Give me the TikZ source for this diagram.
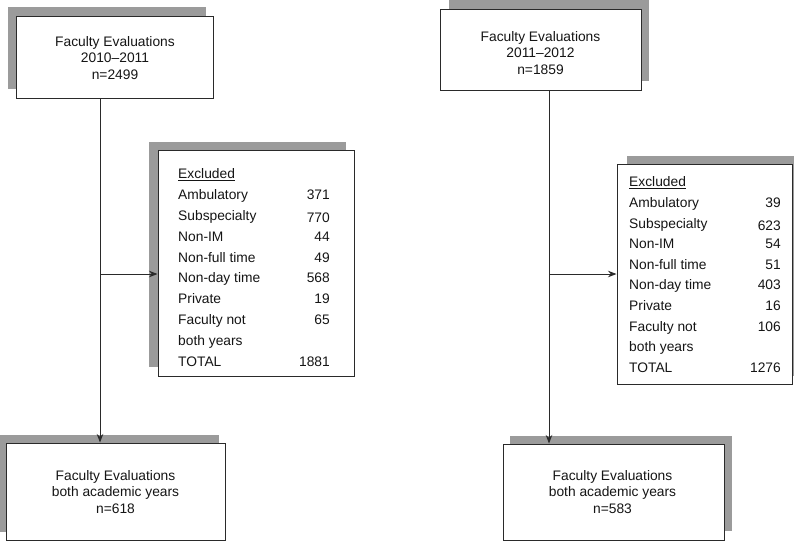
\documentclass[tikz,border=0pt]{standalone}
\usepackage{fontspec}
\setmainfont{Liberation Sans}
\usetikzlibrary{arrows.meta}
\definecolor{shade}{HTML}{9B9B9B}
\definecolor{ink}{HTML}{2A2A2A}
\definecolor{textink}{HTML}{151515}
\begin{document}
\begin{tikzpicture}[x=1pt,y=-1pt,
  box/.style={draw=ink, fill=white, line width=1pt, inner sep=0pt},
  shadowfill/.style={fill=shade},
  txt/.style={text=textink, font=\fontsize{13.8}{16.5}\selectfont, inner sep=0pt},
  conn/.style={draw=ink, line width=0.9pt, -{Stealth[length=8.5pt,width=6.5pt]}}]
\useasboundingbox (0,0) rectangle (794,541);

% shadows
\fill[shadowfill] (8,7) rectangle (206,89);
\fill[shadowfill] (149,142) rectangle (346,367);
\fill[shadowfill] (0,435) rectangle (219,532);
\fill[shadowfill] (449,0) rectangle (649,81);
\fill[shadowfill] (627,156) rectangle (794,376);
\fill[shadowfill] (510,436) rectangle (732,531);

% boxes
\node[box, minimum width=197pt, minimum height=82pt] (tl) at (114.5,57) {};
\node[box, minimum width=196pt, minimum height=226pt] (le) at (256,263) {};
\node[box, minimum width=219pt, minimum height=97pt] (bl) at (115.5,491.5) {};
\node[box, minimum width=201pt, minimum height=81pt] (tr) at (540.5,49.5) {};
\node[box, minimum width=175pt, minimum height=220pt] (re) at (704.5,274) {};
\node[box, minimum width=221pt, minimum height=96pt] (br) at (613.5,492) {};

% box texts
\node[txt, align=center] (tltext) at (115,58) {Faculty Evaluations\\2010--2011\\n=2499};
\node[txt, align=center] (trtext) at (540.5,53) {Faculty Evaluations\\2011--2012\\n=1859};
\node[txt, align=center] (bltext) at (115.5,492) {Faculty Evaluations\\both academic years\\n=618};
\node[txt, align=center] (brtext) at (612.5,492) {Faculty Evaluations\\both academic years\\n=583};

% excluded lists
\foreach \lab [count=\i from 0] in {{\underline{Excluded}},Ambulatory,Subspecialty,Non-IM,Non-full time,Non-day time,Private,Faculty not,both years,TOTAL}{
  \node[txt, anchor=base west] (lrow\i) at (178,174+20.8*\i+4.8) {\lab};
  \node[txt, anchor=base west] (rrow\i) at (629,182+20.6*\i+4.8) {\lab};
}
\foreach \n/\i/\d in {371/1/0,770/2/2.5,44/3/0,49/4/0,568/5/0,19/6/0,65/7/0,1881/9/0}{
  \node[txt, anchor=base east] (lnum\i) at (330,174+20.8*\i+4.8+\d) {\n};
}
\foreach \n/\i/\d in {39/1/0,623/2/2.5,54/3/0,51/4/0,403/5/0,16/6/0,106/7/0,1276/9/0}{
  \node[txt, anchor=base east] (rnum\i) at (781,182+20.6*\i+4.8+\d) {\n};
}

% connectors
\coordinate (lv) at (100,274);
\coordinate (rv) at (549,274);
\draw[conn] (tl.south -| lv) -- (bl.north -| lv);
\draw[conn] (lv) -- (lv -| le.west);
\draw[conn] (tr.south -| rv) -- (br.north -| rv);
\draw[conn] (rv) -- (rv -| re.west);
\end{tikzpicture}
\end{document}
